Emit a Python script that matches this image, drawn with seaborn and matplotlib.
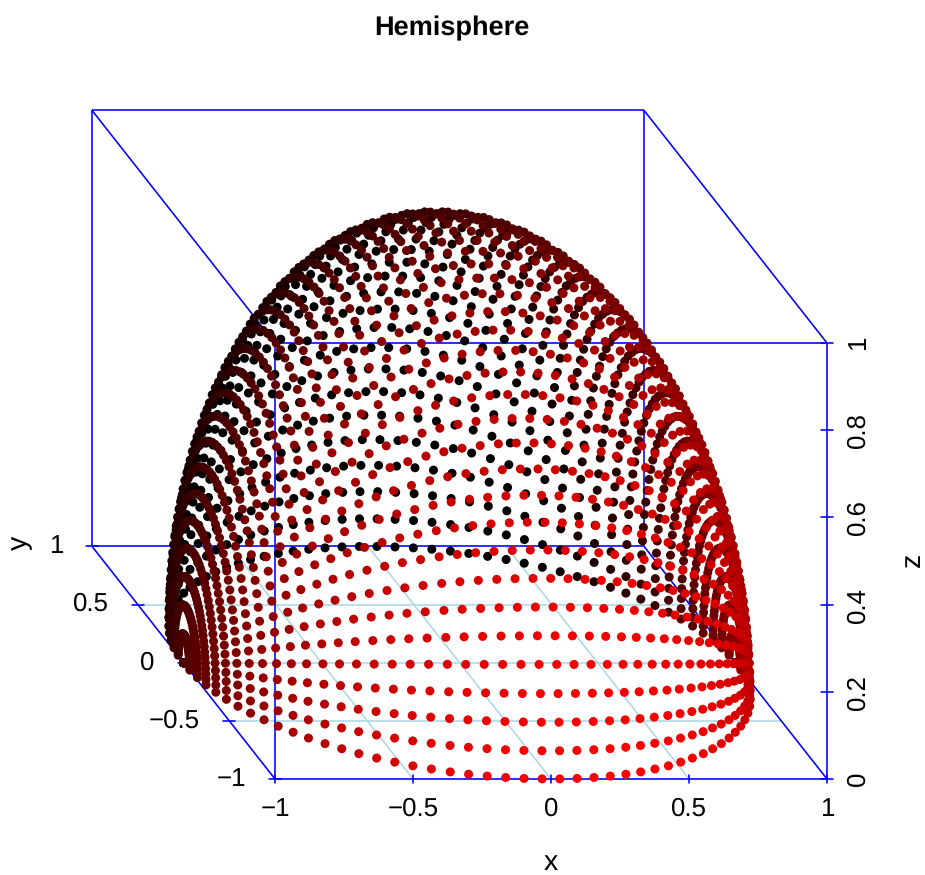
import numpy as np
import pandas as pd
import seaborn as sns
from matplotlib import pyplot as plt
from matplotlib.colors import LinearSegmentedColormap

# Profiles of the 50x50 sphere grid. NOTE: the ~2500 points are not read one by
# one from the picture, they are products of these two literal lists (see below).
cos_profile = [-1.000, -0.998, -0.992, -0.982, -0.967, -0.949, -0.927, -0.901, -0.871, -0.838,
               -0.801, -0.762, -0.718, -0.672, -0.624, -0.572, -0.518, -0.463, -0.405, -0.345,
               -0.285, -0.223, -0.160, -0.096, -0.032, 0.032, 0.096, 0.160, 0.223, 0.285,
               0.345, 0.405, 0.463, 0.518, 0.572, 0.624, 0.672, 0.718, 0.762, 0.801,
               0.838, 0.871, 0.901, 0.927, 0.949, 0.967, 0.982, 0.992, 0.998, 1.000]
sin_profile = [0.000, 0.064, 0.128, 0.191, 0.254, 0.315, 0.375, 0.434, 0.491, 0.546,
               0.598, 0.648, 0.696, 0.740, 0.782, 0.820, 0.855, 0.887, 0.914, 0.939,
               0.959, 0.975, 0.987, 0.995, 0.999, 0.999, 0.995, 0.987, 0.975, 0.959,
               0.939, 0.914, 0.887, 0.855, 0.820, 0.782, 0.740, 0.696, 0.648, 0.598,
               0.546, 0.491, 0.434, 0.375, 0.315, 0.254, 0.191, 0.128, 0.064, 0.000]

x_ticks = [-1, -0.5, 0, 0.5, 1]
y_ticks = [-1, -0.5, 0, 0.5, 1]
z_ticks = [0, 0.2, 0.4, 0.6, 0.8, 1]
x_labels = ["\u22121", "\u22120.5", "0", "0.5", "1"]
y_labels = ["\u22121", "\u22120.5", "0", "0.5", "1"]
z_labels = ["0", "0.2", "0.4", "0.6", "0.8", "1"]

W, H = 925, 875
PX_X, PX_Z = 276, 436
KX, KZ = -0.3315, 0.2668


def project(x, y, z):
    return x + KX * (y + 1), z + KZ * (y + 1)


sns.set_theme(style="white")
plt.rcParams["font.family"] = ["Liberation Sans", "DejaVu Sans"]
plt.rcParams["text.hinting"] = "none"

cos_a = np.array(cos_profile)
sin_a = np.array(sin_profile)
df = pd.DataFrame({
    "x": np.tile(cos_a, 50),
    "y": np.outer(cos_a, sin_a).ravel(),
    "z": np.outer(sin_a, sin_a).ravel(),
})
df["u"], df["v"] = project(df["x"], df["y"], df["z"])
# Red level fitted by eye: back is black, front is bright red, right is lighter than left
df["red"] = (0.42 + 0.12 * df["x"] - 0.56 * df["y"] - 0.05 * df["z"]).clip(0, 1)
df = df.sort_values("y", ascending=False)

fig = plt.figure(figsize=(W / 100, H / 100), dpi=100)
ax = fig.add_axes([0, 0, 1, 1])

# Box first, the points sit on top of it
BLUE = "#0000ff"
GRID = "#add8e6"
LW = 1.15


def seg(p, q, color=BLUE, lw=LW, zorder=2):
    a, b = project(*p), project(*q)
    ax.plot([a[0], b[0]], [a[1], b[1]], color=color, lw=lw, zorder=zorder, solid_capstyle="butt")


for t in x_ticks[1:-1]:
    seg((t, -1, 0), (t, 1, 0), GRID, LW, 1)
for t in y_ticks[1:-1]:
    seg((-1, t, 0), (1, t, 0), GRID, LW, 1)

for p, q in [((-1, -1, 0), (1, -1, 0)), ((-1, -1, 0), (-1, 1, 0)), ((1, -1, 0), (1, 1, 0)),
             ((-1, 1, 0), (1, 1, 0)), ((-1, -1, 0), (-1, -1, 1)), ((1, -1, 0), (1, -1, 1)),
             ((-1, 1, 0), (-1, 1, 1)), ((1, 1, 0), (1, 1, 1)), ((-1, -1, 1), (1, -1, 1)),
             ((-1, 1, 1), (1, 1, 1)), ((-1, -1, 1), (-1, 1, 1)), ((1, -1, 1), (1, 1, 1))]:
    seg(p, q)

sns.scatterplot(data=df, x="u", y="v", hue="red", hue_norm=(0, 1),
                palette=LinearSegmentedColormap.from_list("blackred", ["#000000", "#ff0000"]),
                s=42, linewidth=0, legend=False, ax=ax, zorder=3)

# Ticks and tick labels
TICK_SIZE = 18.6


def tick_text(xy, dx, dy, text, **kw):
    ax.annotate(text, xy=xy, xytext=(dx, dy), textcoords="offset pixels",
                fontsize=TICK_SIZE, color="black", annotation_clip=False, **kw)


for t, label in zip(x_ticks, x_labels):
    u, v = project(t, -1, 0)
    ax.plot([u, u], [v - 4 / PX_Z, v + 4 / PX_Z], color=BLUE, lw=LW, zorder=2)
    tick_text((u, v), 0, -30, label, ha="center", va="center")
for t, label in zip(y_ticks, y_labels):
    u, v = project(-1, t, 0)
    ax.plot([u - 6 / PX_X, u + 6 / PX_X], [v, v], color=BLUE, lw=LW, zorder=2)
    tick_text((u, v), -29, 0, label, ha="right", va="center")
for t, label in zip(z_ticks, z_labels):
    u, v = project(1, -1, t)
    ax.plot([u - 6 / PX_X, u + 6 / PX_X], [v, v], color=BLUE, lw=LW, zorder=2)
    tick_text((u, v), 31, 0, label, ha="center", va="center", rotation=90)

ax.set_xlim(-1 - 275 / PX_X, -1 + (W - 275) / PX_X)
ax.set_ylim((779 - H) / PX_Z, 779 / PX_Z)
ax.set_axis_off()

fig.text(551 / W, 1 - 863 / H, "x", fontsize=20.5, color="black", ha="center", va="center")
fig.text(20 / W, 1 - 543 / H, "y", fontsize=20.5, color="black", ha="center", va="center", rotation=90)
fig.text(913 / W, 1 - 560 / H, "z", fontsize=20.5, color="black", ha="center", va="center", rotation=90)
fig.text(452 / W, 1 - 28 / H, "Hemisphere", fontsize=19.5, fontweight="bold", color="black",
         ha="center", va="center")

fig.savefig("out.png", dpi=100)
